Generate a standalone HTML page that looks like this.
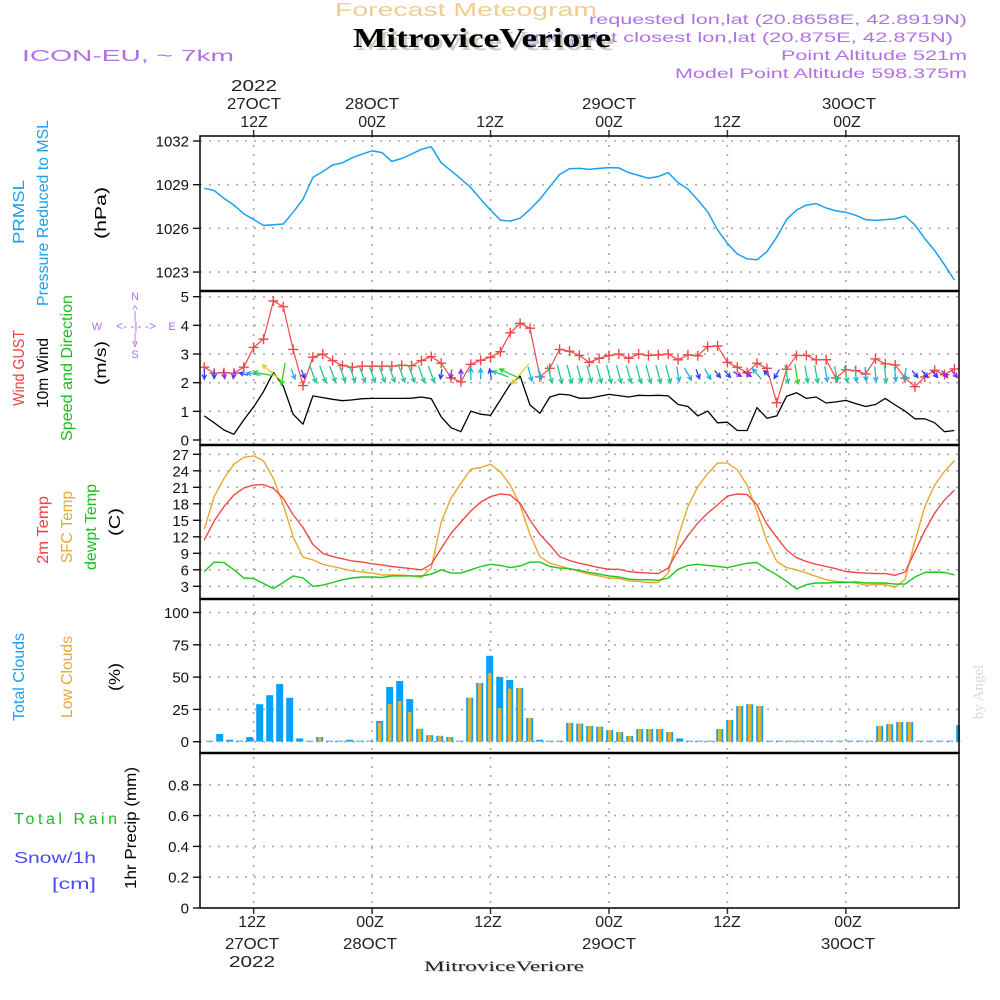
<!DOCTYPE html>
<html><head><meta charset="utf-8"><style>
html,body{margin:0;padding:0;background:#fff;}
svg{display:block;font-family:"Liberation Sans",sans-serif;}
</style></head><body>
<svg id="chart" width="1000" height="1000" viewBox="0 0 1000 1000" xmlns="http://www.w3.org/2000/svg">
<rect x="0" y="0" width="1000" height="1000" fill="#fff"/>
<g id="grid"></g>
<g id="marks"></g>
<g id="frames"></g>
<g id="ticks" font-size="15" fill="#111"></g>

<text x="466" y="16" text-anchor="middle" font-size="18" fill="#f2cc90" textLength="262" lengthAdjust="spacingAndGlyphs">Forecast Meteogram</text>
<text x="967" y="24" text-anchor="end" font-size="14" fill="#b070e8" textLength="378" lengthAdjust="spacingAndGlyphs">requested lon,lat (20.8658E, 42.8919N)</text>
<text x="953" y="42" text-anchor="end" font-size="14" fill="#b070e8" textLength="426" lengthAdjust="spacingAndGlyphs">grid point closest lon,lat (20.875E, 42.875N)</text>
<text x="485" y="50" text-anchor="middle" font-size="27" font-weight="bold" font-family="Liberation Serif, serif" fill="#c6cfc0" textLength="258" lengthAdjust="spacingAndGlyphs">MitroviceVeriore</text>
<text x="482" y="47" text-anchor="middle" font-size="27" font-weight="bold" font-family="Liberation Serif, serif" fill="#000" textLength="258" lengthAdjust="spacingAndGlyphs">MitroviceVeriore</text>
<text x="22" y="61" font-size="16" fill="#b070e8" textLength="212" lengthAdjust="spacingAndGlyphs">ICON-EU, ~ 7km</text>
<text x="967" y="60" text-anchor="end" font-size="14" fill="#b070e8" textLength="186" lengthAdjust="spacingAndGlyphs">Point Altitude 521m</text>
<text x="967" y="78" text-anchor="end" font-size="14" fill="#b070e8" textLength="292" lengthAdjust="spacingAndGlyphs">Model Point Altitude 598.375m</text>

<g font-size="16" fill="#222" text-anchor="middle">
<text x="254" y="91" textLength="46" lengthAdjust="spacingAndGlyphs">2022</text>
<text x="254" y="109" textLength="54" lengthAdjust="spacingAndGlyphs">27OCT</text>
<text x="254" y="127">12Z</text>
<text x="372" y="109" textLength="54" lengthAdjust="spacingAndGlyphs">28OCT</text>
<text x="372" y="127">00Z</text>
<text x="490" y="127">12Z</text>
<text x="609" y="109" textLength="54" lengthAdjust="spacingAndGlyphs">29OCT</text>
<text x="609" y="127">00Z</text>
<text x="727" y="127">12Z</text>
<text x="849" y="109" textLength="54" lengthAdjust="spacingAndGlyphs">30OCT</text>
<text x="847" y="127">00Z</text>
</g>
<g font-size="16" fill="#222" text-anchor="middle">
<text x="252" y="927">12Z</text>
<text x="252" y="949" textLength="54" lengthAdjust="spacingAndGlyphs">27OCT</text>
<text x="252" y="967" textLength="46" lengthAdjust="spacingAndGlyphs">2022</text>
<text x="370" y="927">00Z</text>
<text x="370" y="949" textLength="54" lengthAdjust="spacingAndGlyphs">28OCT</text>
<text x="488" y="927">12Z</text>
<text x="609" y="927">00Z</text>
<text x="609" y="949" textLength="54" lengthAdjust="spacingAndGlyphs">29OCT</text>
<text x="727" y="927">12Z</text>
<text x="848" y="927">00Z</text>
<text x="848" y="949" textLength="54" lengthAdjust="spacingAndGlyphs">30OCT</text>
</g>
<text x="505" y="972" text-anchor="middle" font-size="15" font-family="Liberation Serif, serif" fill="#c6cfc0" textLength="160" lengthAdjust="spacingAndGlyphs">MitroviceVeriore</text>
<text x="504" y="971" text-anchor="middle" font-size="15" font-family="Liberation Serif, serif" fill="#222" textLength="160" lengthAdjust="spacingAndGlyphs">MitroviceVeriore</text>

<g font-size="16" text-anchor="middle">
<text transform="translate(24,212) rotate(-90)" fill="#1aa0f0" textLength="64" lengthAdjust="spacingAndGlyphs">PRMSL</text>
<text transform="translate(48,213) rotate(-90)" fill="#1aa0f0" textLength="186" lengthAdjust="spacingAndGlyphs">Pressure Reduced to MSL</text>
<text transform="translate(106,213) rotate(-90)" fill="#000" textLength="52" lengthAdjust="spacingAndGlyphs">(hPa)</text>
<text transform="translate(24,368) rotate(-90)" fill="#f04040" textLength="76" lengthAdjust="spacingAndGlyphs">Wind GUST</text>
<text transform="translate(48,373) rotate(-90)" fill="#000" textLength="70" lengthAdjust="spacingAndGlyphs">10m Wind</text>
<text transform="translate(72,368) rotate(-90)" fill="#18c018" textLength="146" lengthAdjust="spacingAndGlyphs">Speed and Direction</text>
<text transform="translate(106,363) rotate(-90)" fill="#000" textLength="44" lengthAdjust="spacingAndGlyphs">(m/s)</text>
<text transform="translate(48,530) rotate(-90)" fill="#f04040" textLength="68" lengthAdjust="spacingAndGlyphs">2m Temp</text>
<text transform="translate(72,527) rotate(-90)" fill="#e8a830" textLength="72" lengthAdjust="spacingAndGlyphs">SFC Temp</text>
<text transform="translate(96,527) rotate(-90)" fill="#18c018" textLength="86" lengthAdjust="spacingAndGlyphs">dewpt Temp</text>
<text transform="translate(120,522) rotate(-90)" fill="#000" textLength="28" lengthAdjust="spacingAndGlyphs">(C)</text>
<text transform="translate(24,677) rotate(-90)" fill="#1aa0f0" textLength="88" lengthAdjust="spacingAndGlyphs">Total Clouds</text>
<text transform="translate(72,677) rotate(-90)" fill="#e8a830" textLength="82" lengthAdjust="spacingAndGlyphs">Low Clouds</text>
<text transform="translate(120,677) rotate(-90)" fill="#000" textLength="28" lengthAdjust="spacingAndGlyphs">(%)</text>
<text transform="translate(136,828) rotate(-90)" fill="#000" textLength="122" lengthAdjust="spacingAndGlyphs">1hr Precip (mm)</text>
</g>
<text x="14" y="824" font-size="16" fill="#18c018" textLength="103" lengthAdjust="spacing">Total   Rain</text>
<text x="14" y="863" font-size="16" fill="#4a4af0" textLength="82" lengthAdjust="spacingAndGlyphs">Snow/1h</text>
<text x="52" y="889" font-size="16" fill="#4a4af0" textLength="44" lengthAdjust="spacingAndGlyphs">[cm]</text>
<text transform="translate(983,692) rotate(-90)" text-anchor="middle" font-size="15" font-family="Liberation Serif, serif" fill="#d8d8d8">by Angel</text>

<g fill="#b070e8" font-size="11" text-anchor="middle">
<text x="97" y="330">W</text>
<text x="172" y="330">E</text>
<text x="135" y="300">N</text>
<text x="135" y="358">S</text>
<text x="136" y="330" font-size="12">&lt;- -|- -&gt;</text>
<text x="135" y="313">^</text>
<text x="135" y="319">|</text>
<text x="135" y="341">|</text>
<text x="135" y="347">v</text>
</g>
</svg>
<script>
const pressureHpa = [1028.75,1028.6,1028.06,1027.6,1027.0,1026.6,1026.2,1026.25,1026.3,1027.1,1028.0,1029.5,1029.9,1030.35,1030.5,1030.85,1031.1,1031.33,1031.2,1030.6,1030.8,1031.1,1031.43,1031.6,1030.5,1029.96,1029.4,1028.8,1028.0,1027.26,1026.57,1026.5,1026.7,1027.3,1028.0,1028.86,1029.7,1030.1,
1030.12,1030.05,1030.12,1030.17,1030.15,1029.83,1029.64,1029.44,1029.56,1029.83,1029.14,1028.7,1027.95,1027.14,1025.9,1024.97,1024.24,1023.9,1023.85,1024.4,1025.4,1026.6,1027.26,1027.6,1027.7,1027.4,1027.2,1027.1,1026.9,1026.6,1026.55,1026.6,1026.65,1026.85,1026.23,1025.3,1024.47,1023.5,1022.45];
const windSpeed = [0.84,0.6,0.35,0.2,0.7,1.16,1.69,2.36,1.88,0.9,0.55,1.54,1.48,1.42,1.37,1.4,1.44,1.45,1.45,1.45,1.45,1.46,1.5,1.44,0.81,0.43,0.29,1.01,0.9,0.86,1.4,1.95,2.23,1.22,0.93,1.5,1.6,1.57,1.46,1.46,
1.53,1.59,1.55,1.5,1.56,1.55,1.56,1.54,1.24,1.17,0.84,1.01,0.6,0.62,0.33,0.33,1.13,0.76,0.84,1.53,1.65,1.45,1.5,1.29,1.33,1.38,1.27,1.17,1.24,1.45,1.22,1.01,0.74,0.74,0.6,0.29,0.33];
const windGust = [2.54,2.33,2.35,2.33,2.54,3.23,3.52,4.85,4.65,3.16,1.9,2.89,3.0,2.77,2.6,2.54,2.58,2.58,2.58,2.58,2.61,2.59,2.77,2.91,2.68,2.17,2.03,2.64,2.78,2.89,3.08,3.74,4.07,3.9,2.2,2.5,3.16,3.1,2.95,2.71,
2.85,2.95,3.0,2.85,3.0,2.95,2.97,3.0,2.8,2.97,2.94,3.26,3.28,2.71,2.54,2.35,2.68,2.5,1.3,2.47,2.95,2.95,2.8,2.8,2.16,2.45,2.42,2.3,2.83,2.66,2.62,2.16,1.86,2.2,2.43,2.28,2.48];
const windDirFrom = [0,0,350,10,105,100,100,130,10,
340,340,340,340,340,340,340,340,340,340,340,340,340,340,340,
10,10,180,180,180,170,110,115,40,
345,345,345,345,345,345,345,345,345,345,345,345,345,345,345,
350,330,340,330,320,320,300,300,140,140,30,
350,350,350,350,350,350,350,355,355,355,355,355,10,320,320,320,320,320];
const temp2m = [11.4,14.9,17.5,19.6,20.9,21.4,21.5,20.8,19.0,16.0,13.7,10.6,9.0,8.4,8.0,7.6,7.4,7.1,6.9,6.6,6.4,6.2,6.0,7.0,9.9,12.6,14.7,16.7,18.3,19.3,19.8,19.6,18.1,15.05,12.45,10.5,8.4,7.7,
7.2,6.8,6.4,6.1,6.1,5.7,5.5,5.4,5.3,6.3,9.6,12.2,14.5,16.3,17.8,19.4,19.8,19.7,17.8,14.3,11.9,9.6,8.2,7.5,7.0,6.6,6.2,5.7,5.5,5.4,5.3,5.3,5.0,5.6,9.3,13.1,16.3,18.7,20.5];
const tempSfc = [13.4,19.3,22.6,25.2,26.45,26.7,25.8,22.6,17.8,12.0,8.3,7.8,7.0,6.6,6.2,5.8,5.6,5.4,5.05,5.05,5.05,4.9,4.6,6.4,14.7,19.0,21.7,24.3,24.6,25.2,23.8,21.4,17.8,12.4,8.4,7.2,6.7,6.2,
5.7,5.2,4.9,4.5,4.4,4.0,3.9,3.7,3.7,5.4,12.0,17.5,21.1,23.5,25.4,25.4,24.2,21.4,16.6,11.2,7.5,6.4,6.0,5.4,4.8,4.2,3.9,3.8,3.6,3.2,3.3,3.3,2.8,4.3,11.2,17.5,21.4,23.9,25.85];
const tempDew = [5.7,7.4,7.3,6.0,4.5,4.4,3.5,2.6,3.7,4.9,4.5,3.0,3.2,3.7,4.2,4.5,4.7,4.7,4.6,4.9,4.9,4.9,4.9,5.2,6.0,5.4,5.4,6.0,6.6,7.0,6.8,6.4,6.7,7.4,7.4,6.6,6.3,6.2,
5.9,5.5,5.2,4.9,4.7,4.3,4.2,4.2,4.1,4.5,6.1,6.8,7.0,6.8,6.6,6.4,6.8,7.2,7.3,6.1,5.1,3.9,2.5,3.3,3.6,3.6,3.7,3.7,3.8,3.6,3.6,3.6,3.4,3.4,4.7,5.5,5.6,5.5,5.1];
const totalClouds = [0.5,6,1.5,0.5,3.6,29,36,44.7,34,2.5,0.5,3.6,0.5,0.5,1.5,0.5,0.5,16,42.4,47,33,10,5,4.5,3.6,0.5,34,45.5,66.5,50.1,47.8,41.6,18.4,1.5,0.5,0.5,14.5,14,
12.2,11.6,9,7.5,4.4,9.8,9.8,9.8,7.5,2.5,0.5,0.5,0.5,9.8,16.8,27.6,29,27.6,0.5,0.5,0.5,0.5,0.5,0.5,0.5,0.5,0.5,0.5,0.5,12.2,13.6,15.2,15.2,0.5,0.5,0.5,0.5,12.8];
const lowClouds = [0,0,0,0,0,0,0,0,0,0,0,3.6,0,0,0,0,0,14.7,29,31.5,23,10,5,4.5,3.6,0,34,45.5,53,26,41,41.6,18.4,0,0,0,14.5,14,
12.2,11.6,9,7.5,4.4,9.8,9.8,9.8,7.5,0,0,0,0,9.8,16.8,27.6,29,27.6,0,0,0,0,0,0,0,0,0,0,0,12.2,13.6,15.2,15.2,0,0,0,0,0];
const precipMm = new Array(77).fill(0);
const pressureTicks = [1032,1029,1026,1023];
const windTicks = [0,1,2,3,4,5];
const tempTicks = [3,6,9,12,15,18,21,24,27];
const cloudTicks = [0,25,50,75,100];
const precipTicks = [0,0.2,0.4,0.6,0.8];
const precipTickLabels = ["0","0.2","0.4","0.6","0.8"];
const gridHours = [5,17,29,41,53,65];

const X0=200, X1=959;
const xT = i => 204.3 + i*9.87;
const xC = k => 209.7 + k*10;
const yP = p => 141 + (1032-p)*14.56;
const yW = w => 440 - w*28.66;
const yT = t => 454.3 + (27-t)*5.5;
const yC = c => 741.7 - c*1.292;
const yR = r => 908 - r*154;
const panels = [[136,291],[291,445],[445,599],[599,753],[753,908]];

const NS='http://www.w3.org/2000/svg';
function mk(tag, parent, attrs){const e=document.createElementNS(NS,tag);for(const k in attrs)e.setAttribute(k,attrs[k]);parent.appendChild(e);return e;}
const G=document.getElementById('grid'), M=document.getElementById('marks'), F=document.getElementById('frames'), T=document.getElementById('ticks');

function hgrid(vals, yf, y0, y1){vals.forEach(v=>{const y=yf(v);if(y<y0-1||y>y1+1)return;
  const l=mk('line',G,{x1:X0,x2:X1,y1:y,y2:y,stroke:'#a8a8a8','stroke-width':1.6,'stroke-dasharray':'2,7'});
  
  });}
hgrid(pressureTicks,yP,136,291);hgrid(windTicks,yW,291,445);hgrid(tempTicks,yT,445,599);hgrid(cloudTicks,yC,599,753);hgrid(precipTicks,yR,753,908);
gridHours.forEach(h=>{const x=xT(h);
  const l=mk('line',G,{x1:x,x2:x,y1:136,y2:908,stroke:'#a8a8a8','stroke-width':1.6,'stroke-dasharray':'2,7'});
  
  
  const t1=mk('line',F,{x1:x,x2:x,y1:130,y2:136,stroke:'#333','stroke-width':1.5});
  
  
  const t2=mk('line',F,{x1:x,x2:x,y1:908,y2:914,stroke:'#333','stroke-width':1.5});
  
  
});

function line(vals, xf, yf, color, name, w){
  const pts=vals.map((v,i)=>xf(i).toFixed(1)+','+yf(v).toFixed(1)).join(' ');
  const p=mk('polyline',M,{points:pts,fill:'none',stroke:color,'stroke-width':w||1.4,'stroke-linejoin':'round'});
  
  
}
line(pressureHpa,xT,yP,'#1aa0f0','pressure-line',1.5);
line(windSpeed,xT,yW,'#000','wind-speed-line',1.3);
line(windGust,xT,yW,'#f04848','wind-gust-line',1.2);
windGust.forEach((g,i)=>{const x=xT(i),y=yW(g);
  const c=mk('path',M,{d:`M${x-5},${y}H${x+5}M${x},${y-5}V${y+5}`,stroke:'#f04848','stroke-width':1.4});
  
  });
function arrowColor(s){if(s<0.5)return '#8a28e0';if(s<0.9)return '#2a40f0';if(s<1.3)return '#20b0e0';if(s<1.65)return '#20c890';if(s<2.2)return '#30d020';return '#e0d020';}
windDirFrom.forEach((d,i)=>{const s=windSpeed[i];const L=Math.max(9,s*12);const th=(d+180)*Math.PI/180;
  const cx=xT(i),cy=374;const dx=Math.sin(th)*L,dy=-Math.cos(th)*L;
  const x=cx-dx/2,y=cy-dy/2,hx=cx+dx/2,hy=cy+dy/2;
  const a1=th+Math.PI*0.85,a2=th-Math.PI*0.85,h=5;
  const p=mk('path',M,{d:`M${x},${y}L${hx},${hy}M${hx+Math.sin(a1)*h},${hy-Math.cos(a1)*h}L${hx},${hy}L${hx+Math.sin(a2)*h},${hy-Math.cos(a2)*h}`,fill:'none',stroke:arrowColor(s),'stroke-width':1.3});
  
  });
line(tempSfc,xT,yT,'#e8a830','sfc-temp-line',1.4);
line(temp2m,xT,yT,'#f04848','temp-2m-line',1.4);
line(tempDew,xT,yT,'#18c818','dewpoint-line',1.4);
totalClouds.forEach((c,k)=>{const x=xC(k);if(x>960)return;const y=yC(c);const w=Math.min(7,960-(x-3.5));
  const b=mk('rect',M,{x:x-3.5,y:Math.min(y,740.7),width:w,height:Math.max(1,741.7-y),fill:'#08a0f8'});
  
  
  const lc=lowClouds[k];const yl=yC(lc);
  const o=mk('rect',M,{x:x-1.8,y:Math.min(yl,741),width:3.6,height:Math.max(0.7,741.7-yl),fill:'#e8b030'});
  
  });
line(precipMm,xT,yR,'#18c818','precip-line',1);

panels.forEach(([a,b])=>{const r=mk('rect',F,{x:X0,y:a,width:X1-X0,height:b-a,fill:'none',stroke:'#111','stroke-width':1.6});
  
  });
[291,445,599,753].forEach(y=>{const l=mk('line',F,{x1:X0,x2:X1,y1:y,y2:y,stroke:'#000','stroke-width':2.6});
  
  });

function yticks(vals, labels, yf, name){vals.forEach((v,j)=>{const y=yf(v);
  const l=mk('line',T,{x1:193,x2:200,y1:y,y2:y,stroke:'#111','stroke-width':1.4});
  
  
  const t=mk('text',T,{x:189,y:y+5.5,'text-anchor':'end'});t.textContent=labels[j];
  
  });}
yticks(pressureTicks,pressureTicks.map(String),yP,'pressure');
yticks(windTicks,windTicks.map(String),yW,'wind');
yticks(tempTicks,tempTicks.map(String),yT,'temp');
yticks(cloudTicks,cloudTicks.map(String),yC,'cloud');
yticks(precipTicks,precipTickLabels,yR,'precip');
</script>
</body></html>
